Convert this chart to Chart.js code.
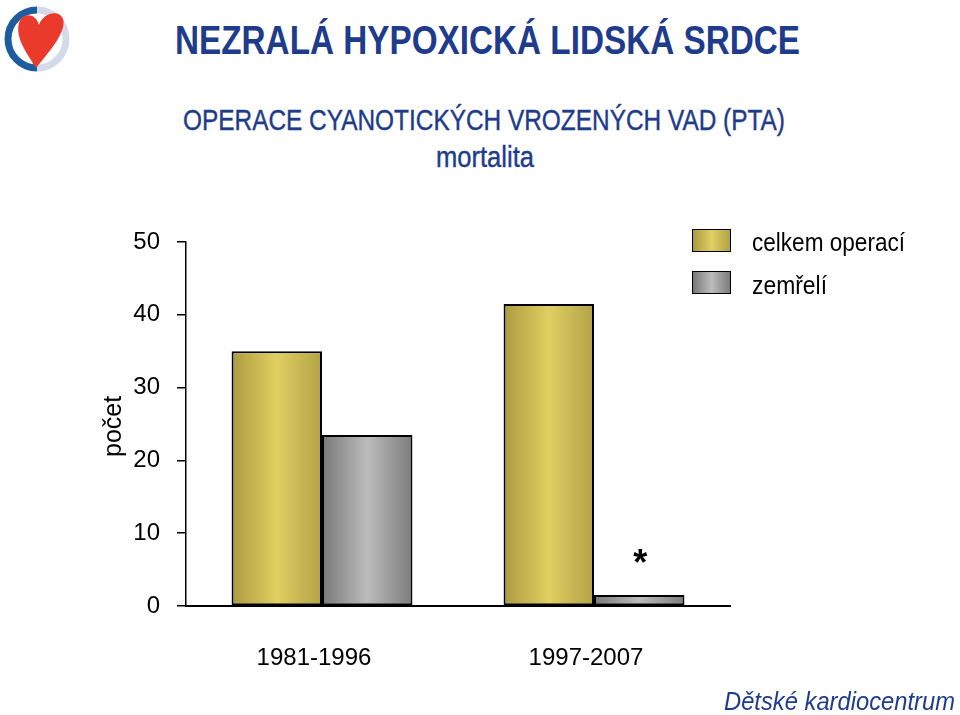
<!DOCTYPE html>
<html>
<head>
<meta charset="utf-8">
<script src="https://cdn.jsdelivr.net/npm/chart.js@4.4.1/dist/chart.umd.min.js"></script>
<style>
  html, body { margin: 0; padding: 0; background: #fff; }
  body { width: 960px; height: 715px; position: relative; overflow: hidden;
         font-family: "Liberation Sans", Arial, sans-serif; }
  .txt { position: absolute; white-space: nowrap; transform-origin: 0 50%; line-height: 1; }
  .blue { color: #1f3b8c; }
  #wrap { position: absolute; left: 0; top: 0; width: 960px; height: 715px; }
  .box { position: absolute; width: 37px; height: 21px; border: 1.5px solid #000; }
</style>
</head>
<body>
<svg style="position:absolute;left:0;top:0" width="80" height="80" viewBox="0 0 80 80">
  <path d="M37 10 A29 29 0 0 1 37 68" fill="none" stroke="#d3dbea" stroke-width="7"/>
  <path d="M37 10 A29 29 0 0 0 37 68" fill="none" stroke="#1d5c9e" stroke-width="7"/>
  <path d="M36 68 C27 53 15 38 19 23 C22 12 36 13 39 25 C43 13 59 9 63 19 C67 31 50 51 36 68 Z" fill="#ea3a2b"/>
</svg>

<div class="txt blue" data-w="625" style="left:175px;top:20px;font-size:40px;font-weight:bold;">NEZRALÁ HYPOXICKÁ LIDSKÁ SRDCE</div>
<div class="txt blue" data-w="602" style="left:183px;top:106px;font-size:29px;-webkit-text-stroke:0.4px #1f3b8c;">OPERACE CYANOTICKÝCH VROZENÝCH VAD (PTA)</div>
<div class="txt blue" data-w="98" style="left:436px;top:143px;font-size:29px;-webkit-text-stroke:0.4px #1f3b8c;">mortalita</div>

<div id="wrap"><canvas id="chart"></canvas></div>

<div class="txt" style="left:100px;top:426px;font-size:25px;color:#000;transform-origin:0 0;transform:rotate(-90deg) translate(-31px,0);">počet</div>

<div class="box" id="legGold" style="left:692px;top:229px;"></div>
<div class="txt" data-w="153" style="left:752px;top:230px;font-size:25px;">celkem operací</div>
<div class="box" id="legGray" style="left:692px;top:271px;"></div>
<div class="txt" data-w="75" style="left:752px;top:273px;font-size:25px;">zemřelí</div>

<div class="txt blue" data-w="231" style="left:724px;top:688px;font-size:26px;font-style:italic;">Dětské kardiocentrum</div>

<script>
const categories = ["1981-1996", "1997-2007"];
const totalOps = [35, 41.5];
const deaths = [23.5, 1.5];
const seriesNames = ["celkem operací", "zemřelí"];
const yMin = 0;
const yMax = 50;
const yStep = 10;
const markedBar = { dataset: 1, index: 1, text: "*" };

const GOLD = ["#ab9b3f", "#e0cf62", "#b2a246"];
const GRAY = ["#787878", "#bcbcbc", "#7c7c7c"];
const CAT_PCT = 0.665;

const cssGradient = (stops) =>
  `linear-gradient(to right, ${stops[0]}, ${stops[1]} 50%, ${stops[2]})`;
document.getElementById("legGold").style.background = cssGradient(GOLD);
document.getElementById("legGray").style.background = cssGradient(GRAY);

// squeeze text to the widths seen in the reference
document.querySelectorAll(".txt[data-w]").forEach((el) => {
  const target = Number(el.dataset.w);
  const actual = el.getBoundingClientRect().width;
  if (actual > 0) el.style.transform = `scaleX(${target / actual})`;
});

const barGradient = (stops) => (context) => {
  const chart = context.chart;
  const { chartArea, ctx } = chart;
  if (!chartArea) return stops[1];
  const xScale = chart.scales.x;
  const center = xScale.getPixelForValue(context.dataIndex);
  const groupWidth = (xScale.width / categories.length) * CAT_PCT;
  const barWidth = groupWidth / 2;
  const left = center - groupWidth / 2 + context.datasetIndex * barWidth;
  const grad = ctx.createLinearGradient(left, 0, left + barWidth, 0);
  grad.addColorStop(0, stops[0]);
  grad.addColorStop(0.5, stops[1]);
  grad.addColorStop(1, stops[2]);
  return grad;
};

const asteriskPlugin = {
  id: "asterisk",
  afterDatasetsDraw(chart) {
    const meta = chart.getDatasetMeta(markedBar.dataset);
    const bar = meta.data[markedBar.index];
    if (!bar) return;
    const { ctx } = chart;
    ctx.save();
    ctx.fillStyle = "#000";
    ctx.font = "bold 36px 'Liberation Sans', Arial, sans-serif";
    ctx.textAlign = "center";
    ctx.textBaseline = "middle";
    ctx.fillText(markedBar.text, bar.x + 1, bar.y - 30);
    ctx.restore();
  },
};

Chart.defaults.font.family = "'Liberation Sans', Arial, sans-serif";
Chart.defaults.color = "#000";

new Chart(document.getElementById("chart"), {
  type: "bar",
  data: {
    labels: categories,
    datasets: [
      {
        label: seriesNames[0],
        data: totalOps,
        backgroundColor: barGradient(GOLD),
      },
      {
        label: seriesNames[1],
        data: deaths,
        backgroundColor: barGradient(GRAY),
      },
    ],
  },
  options: {
    responsive: true,
    maintainAspectRatio: false,
    animation: false,
    datasets: {
      bar: {
        barPercentage: 1,
        categoryPercentage: CAT_PCT,
        borderColor: "#000",
        borderWidth: 2,
        borderSkipped: false,
      },
    },
    layout: { padding: { left: 0, right: 230, top: 242, bottom: 0 } },
    plugins: {
      legend: { display: false },
      tooltip: { enabled: false },
    },
    scales: {
      x: {
        grid: { display: true, drawOnChartArea: false, drawTicks: false },
        border: { display: true, color: "#000", width: 2 },
        ticks: { font: { size: 24 }, padding: 38, color: "#000", labelOffset: -8 },
        afterFit(scale) { scale.height = 109; },
      },
      y: {
        min: yMin,
        max: yMax,
        grid: {
          drawOnChartArea: false,
          drawTicks: true,
          tickLength: 9,
          color: "#000",
          lineWidth: 1.5,
        },
        border: { display: true, color: "#000", width: 1.5 },
        ticks: { stepSize: yStep, font: { size: 24 }, padding: 17, color: "#000" },
        afterFit(scale) { scale.width = 186; },
      },
    },
  },
  plugins: [asteriskPlugin],
});
</script>
</body>
</html>
